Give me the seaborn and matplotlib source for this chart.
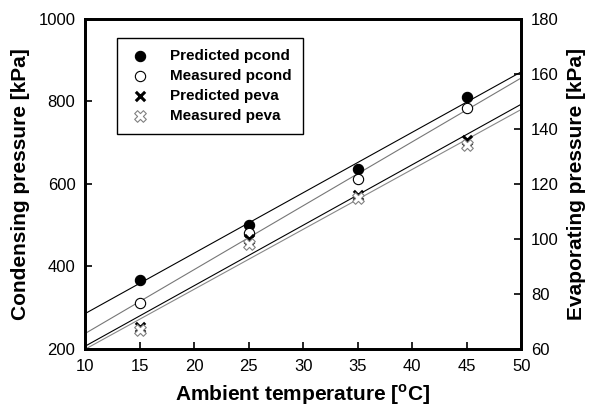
import matplotlib
matplotlib.use("Agg")
import matplotlib.pyplot as plt
import seaborn as sns
import numpy as np

# Data
temps = [15, 25, 35, 45]
pcond_pred = [367, 501, 637, 810]
pcond_meas = [311, 482, 612, 784]
peva_pred = [68, 100, 116, 136]
peva_meas = [67, 98, 115, 134]

sns.set_style("ticks")
plt.rcParams['font.family'] = ['Liberation Sans', 'DejaVu Sans']
plt.rcParams['mathtext.fontset'] = 'custom'
plt.rcParams['mathtext.rm'] = 'Liberation Sans'
plt.rcParams['mathtext.bf'] = 'Liberation Sans:bold'
plt.rcParams['text.color'] = 'black'
plt.rcParams['axes.labelcolor'] = 'black'
plt.rcParams['xtick.color'] = 'black'
plt.rcParams['ytick.color'] = 'black'
plt.rcParams['axes.edgecolor'] = 'black'

fig = plt.figure(figsize=(5.91, 4.12), dpi=100)
ax = fig.add_axes([0.144, 0.153, 0.738, 0.801])
ax2 = ax.twinx()

ax.set_xlim(10, 50)
ax.set_ylim(200, 1000)
ax2.set_ylim(60, 180)

# condensing pressure (left axis)
sns.regplot(x=temps, y=pcond_pred, ax=ax, ci=None, truncate=False,
            marker='o', label='Predicted pcond',
            scatter_kws=dict(color='black', s=55, edgecolor='black', linewidths=0.8, alpha=1, zorder=4),
            line_kws=dict(color='black', lw=0.8))
sns.regplot(x=temps, y=pcond_meas, ax=ax, ci=None, truncate=False,
            marker='o', label='Measured pcond',
            scatter_kws=dict(facecolor='white', s=55, edgecolor='black', linewidths=0.8, alpha=1, zorder=4),
            line_kws=dict(color='#777777', lw=0.8))

# evaporating pressure (right axis)
sns.regplot(x=temps, y=peva_pred, ax=ax2, ci=None, truncate=False,
            marker='x', label='Predicted peva',
            scatter_kws=dict(color='black', s=45, linewidths=2.2, alpha=1, zorder=4),
            line_kws=dict(color='black', lw=0.8))
sns.regplot(x=temps, y=peva_meas, ax=ax2, ci=None, truncate=False,
            marker='X', label='Measured peva',
            scatter_kws=dict(facecolor='white', edgecolor='#808080', s=70, linewidths=0.8, alpha=1, zorder=4),
            line_kws=dict(color='#888888', lw=0.8))

ax.set_xlim(10, 50)
ax.set_ylim(200, 1000)
ax2.set_ylim(60, 180)

ax.set_xticks(np.arange(10, 51, 5))
ax.set_yticks(np.arange(200, 1001, 200))
ax2.set_yticks(np.arange(60, 181, 20))

for a in (ax, ax2):
    a.tick_params(direction='in', length=5, width=1.2, labelsize=12, pad=7)
    for sp in a.spines.values():
        sp.set_visible(True)
        sp.set_linewidth(2)
        sp.set_color('black')

ax.set_xlabel(r'Ambient temperature [$^\mathbf{o}$C]', fontsize=15, fontweight='bold', labelpad=6)
ax.set_ylabel('Condensing pressure [kPa]', fontsize=15, fontweight='bold', labelpad=6)
ax2.set_ylabel('Evaporating pressure [kPa]', fontsize=15, fontweight='bold', labelpad=6)

h1, l1 = ax.get_legend_handles_labels()
h2, l2 = ax2.get_legend_handles_labels()
leg = ax2.legend(h1 + h2, l1 + l2, loc='upper left', bbox_to_anchor=(0.055, 0.965),
                 frameon=True, fancybox=False, edgecolor='black', framealpha=1,
                 prop=dict(weight='bold', size=11), handletextpad=1.2,
                 borderpad=0.7, labelspacing=0.4, handlelength=1.6)
leg.get_frame().set_linewidth(1.0)

fig.savefig('out.png', dpi=100)
